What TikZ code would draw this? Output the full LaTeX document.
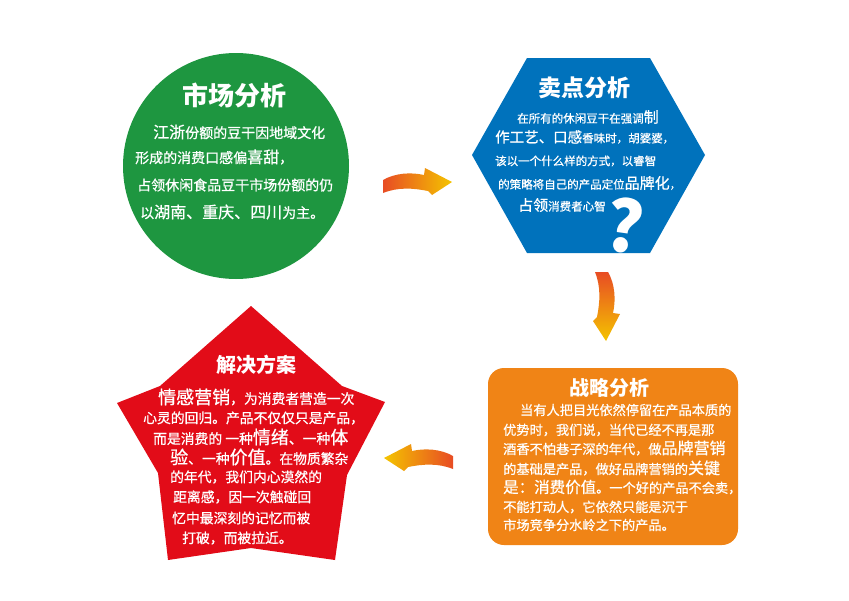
\documentclass[tikz,border=0pt]{standalone}
\usepackage{fontspec}
\setmainfont{Noto Sans CJK SC}[UprightFeatures={FakeBold=0.8}]
\usepackage{tikz}
\usetikzlibrary{positioning}
\definecolor{mkgreen}{RGB}{30,150,64}
\definecolor{mdblue}{RGB}{0,114,188}
\definecolor{zlorange}{RGB}{240,132,22}
\definecolor{jjred}{RGB}{226,12,24}
\definecolor{arrowred}{RGB}{220,30,40}
\definecolor{arrowtail}{RGB}{232,76,36}
\definecolor{arrowyellow}{RGB}{244,196,0}
\newcommand{\fsz}[1]{\fontsize{#1}{#1}\selectfont}
% bent arrow, tail at origin, pointing along +x (y runs downward)
\newcommand{\bentarrow}{(0,-7) .. controls (12,-14) and (28,-15) .. (41,-12) -- (42,-19) -- (69,-5) -- (49,8) -- (45,4) .. controls (30,1) and (15,0) .. (0,6) -- cycle}

\begin{document}
\begin{tikzpicture}[
    x=1pt, y=-1pt,
    title/.style={inner sep=0, text=white, font=\bfseries},
    line/.style={anchor=west, inner sep=0, text=white},
    body/.style={line, font=\fsz{14}},
    mdbody/.style={line, font=\fsz{11.5}},
    jjbody/.style={line, font=\fsz{13.8}},
    zlbody/.style={line, font=\fsz{13.2}}
]
\fill[white] (0,0) rectangle (849,600);
\useasboundingbox (0,0) rectangle (849,600);

% 市场分析
\node[circle, fill=mkgreen, minimum size=226, inner sep=0] (mk) at (236,166) {};
\node[title, font=\bfseries\fsz{26}] (mkt) at (234,95) {市场分析};
\node[body] (mk1) at (153,132) {{\fsz{16}江浙}份额的豆干因地域文化};
\node[body] (mk2) at (135,157) {形成的消费口感偏{\fsz{16}喜甜}，};
\node[body] (mk3) at (137,185) {占领休闲食品豆干市场份额的仍};
\node[body] (mk4) at (140,212) {以{\fsz{16}湖南、重庆、四川}为主。};

% 卖点分析
\fill[mdblue] (527,58) -- (650,58) -- (705,155) -- (650,253) -- (527,253) -- (472,155) -- cycle;
\node[title, font=\bfseries\fsz{23}] (mdt) at (584,88) {卖点分析};
\node[mdbody] (md1) at (517,117) {在所有的休闲豆干在强调{\fsz{15}制}};
\node[mdbody] (md2) at (495,137) {{\fsz{14.5}作工艺、口感}香味时，胡婆婆，};
\node[mdbody] (md3) at (495,161) {该以一个什么样的方式，以睿智};
\node[mdbody] (md4) at (498,183) {的策略将自己的产品定位{\fsz{15}品牌化}，};
\node[mdbody] (md5) at (518,205) {{\fsz{15}占领}消费者心智};
\node[title, font=\bfseries\fsz{70}, rotate=-8] (mdq) at (625,226) {?};

% 战略分析
\node[rectangle, rounded corners=16pt, fill=zlorange, minimum width=250, minimum height=177, inner sep=0] (zl) at (613,456.5) {};
\node[title, font=\bfseries\fsz{20}] (zlt) at (609,388) {战略分析};
\node[zlbody] (zl1) at (520,410) {当有人把目光依然停留在产品本质的};
\node[zlbody] (zl2) at (503,430) {优势时，我们说，当代已经不再是那};
\node[zlbody] (zl3) at (503,448) {酒香不怕巷子深的年代，做{\fsz{16}品牌营销}};
\node[zlbody] (zl4) at (503,468) {的基础是产品，做好品牌营销的{\fsz{16}关键}};
\node[zlbody] (zl5) at (503,487) {{\fsz{15.5}是：消费价值}。一个好的产品不会卖，};
\node[zlbody] (zl6) at (503,507) {不能打动人，它依然只能是沉于};
\node[zlbody] (zl7) at (503,525) {市场竞争分水岭之下的产品。};

% 解决方案
\fill[jjred] (251,306) -- (342,386) -- (385,402) -- (347,475) -- (335,560) -- (251,548) -- (168,560) -- (158,473) -- (117,403) -- (160,386) -- cycle;
\node[title, font=\bfseries\fsz{20}] (jjt) at (256,365) {解决方案};
\node[jjbody] (jj1) at (158,397) {{\fsz{18}情感营销}，为消费者营造一次};
\node[jjbody] (jj2) at (143,418) {心灵的回归。产品不仅仅只是产品，};
\node[jjbody] (jj3) at (153,437) {而是消费的 一种{\fsz{18}情绪}、一种{\fsz{18}体}};
\node[jjbody] (jj4) at (170,457) {{\fsz{18}验}、一种{\fsz{18}价值}。在物质繁杂};
\node[jjbody] (jj5) at (170,477) {的年代，我们内心漠然的};
\node[jjbody] (jj6) at (173,497) {距离感，因一次触碰回};
\node[jjbody] (jj7) at (172,518) {忆中最深刻的记忆而被};
\node[jjbody] (jj8) at (182,538) {打破，而被拉近。};

% arrows between the panels
\begin{scope}[shift={(383,187)}]
  \shade[left color=arrowtail, middle color=arrowred, right color=arrowyellow] \bentarrow;
\end{scope}
\begin{scope}[shift={(601,272)}, rotate=-90]
  \shade[top color=arrowtail, middle color=arrowred, bottom color=arrowyellow] \bentarrow;
\end{scope}
\begin{scope}[shift={(453,463)}, xscale=-1]
  \shade[right color=arrowtail, middle color=arrowred, left color=arrowyellow] \bentarrow;
\end{scope}

\end{tikzpicture}
\end{document}
